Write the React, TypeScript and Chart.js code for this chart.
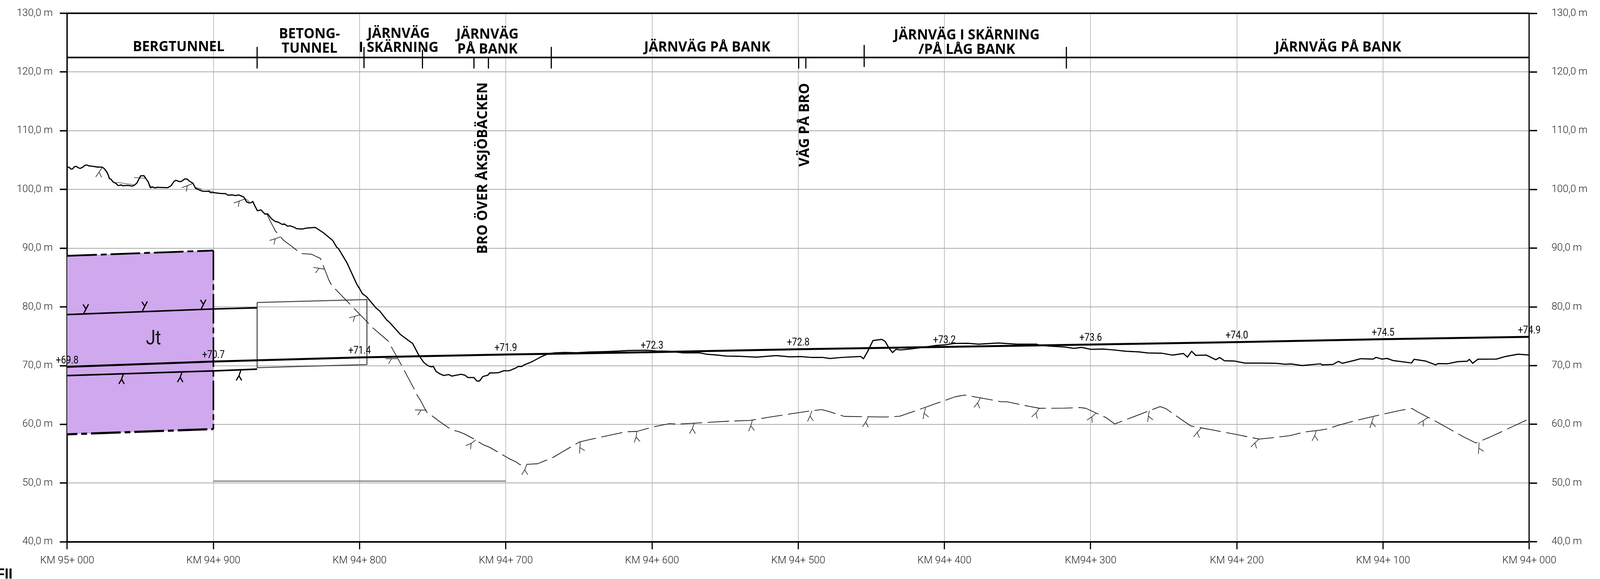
import React, { useEffect, useRef } from "react";
import { Chart, registerables } from "chart.js";

Chart.register(...registerables);

type P = [number, number];

// x = metres from KM 95+000 along the line, y = elevation in metres
const kmLabels = ["KM 95+ 000", "KM 94+ 900", "KM 94+ 800", "KM 94+ 700", "KM 94+ 600", "KM 94+ 500", "KM 94+ 400", "KM94+ 300", "KM 94+ 200", "KM 94+ 100", "KM 94+ 000"];
const stations = [0, 100, 200, 300, 400, 500, 600, 700, 800, 900, 1000];
const railLevels = [69.8, 70.7, 71.4, 71.9, 72.3, 72.8, 73.2, 73.6, 74.0, 74.5, 74.9];

const terrain: P[] = [
  [0, 103.83], [1.3, 103.78], [2.6, 103.47], [3.7, 103.5], [4.9, 103.87], [6.2, 103.92], [7.9, 103.67], [8.8, 103.59], [10.6, 103.78], [12.3, 104.14], [13.7, 104.14], [15, 104], [17.6, 103.94], [20.7, 103.81], [23.8, 103.81], [25.1, 103.61], [26.9, 103.06], [28, 102.51], [28.9, 101.85], [30, 101.74], [31.3, 101.29], [33.1, 101.07], [34.8, 100.68], [36.2, 100.7], [37, 100.79], [37.9, 100.63], [41.5, 100.7], [44.1, 100.59], [45.4, 100.63], [47.6, 101.07], [49, 101.74], [50.3, 102.33], [52.5, 102.35], [53.8, 101.85], [55.4, 101.29], [56.9, 100.3], [58.7, 100.41], [60.2, 100.24], [61.3, 100.37], [64.8, 100.33], [68.8, 100.3], [71, 100.63], [73.2, 101.4], [74.5, 101.56], [76.7, 101.34], [78.1, 101.36], [80.3, 101.78], [82, 101.78], [83.4, 101.45], [86, 101.07], [87.8, 100.19], [91.7, 99.77], [93.5, 99.69], [97, 99.69], [97.9, 99.47], [100.1, 99.47], [104.1, 99.33], [107.2, 99.29], [108.3, 99.31], [109.8, 99.03], [112.9, 99.07], [115.1, 98.96], [117.3, 99.07], [120.8, 98.72], [122.6, 97.92], [124.4, 97.7], [125.7, 97.75], [127, 97.95], [128.1, 97.33], [130.1, 96.38],
  [132.5, 96.52], [135.3, 95.8], [137.1, 95.86], [139.7, 95.02], [142.4, 94.54], [144.1, 94.47], [147.2, 94.03], [148.5, 94.14], [150.7, 93.75], [152.5, 93.81], [155.6, 93.53], [156.7, 93.33], [160.9, 93.26], [163.5, 93.42], [169.7, 93.53], [175.4, 92.6], [181.6, 91.32], [184.3, 90.18], [185.6, 89.91], [191.3, 87.54], [198, 83.9], [199.7, 83.24], [201.9, 82.25], [204.6, 81.77], [211.2, 79.83], [213.8, 79.28], [218.7, 77.73], [220.4, 77.4], [227.9, 75.31], [233.2, 74.32], [236.3, 73.77], [240.7, 71.68], [243.8, 70.58], [246.5, 70.03], [248.7, 69.81], [250.4, 69.87], [252.4, 68.99], [255.3, 68.55], [257.5, 68.33],
  [260.9, 68.48], [263.1, 68.22], [269.4, 68.53], [272.1, 68.37], [274.1, 67.97], [278.2, 67.97], [280.2, 67.38], [282, 67.38], [284.3, 68.15], [287.7, 68.37], [289, 68.77], [291.7, 68.75], [295.1, 68.81], [298.5, 69.12], [302.5, 69.14], [306.6, 69.58], [308.6, 69.87], [310.9, 69.85], [312.6, 70.13], [318, 70.68], [324.1, 71.5], [328.8, 72.01], [333.6, 72.18], [340.3, 72.25], [348.4, 72.2], [356.5, 72.31], [368.7, 72.4], [375.4, 72.47], [384.2, 72.58], [397, 72.62], [402.4, 72.49], [410.5, 72.47], [421.3, 72.18], [432.1, 72.2], [437.5, 71.94],
  [444, 71.81], [450.9, 71.63], [459.2, 71.59], [471.4, 71.45], [485, 71.72], [494.2, 71.5], [501.8, 71.54], [509.3, 71.39], [516.9, 71.39], [521.8, 71.21], [529.1, 71.39], [542.8, 71.56], [544.6, 71.17], [547.3, 72.33], [551.1, 74.27], [557.2, 74.47], [559.5, 74.1], [561.8, 73.11], [564.5, 72.22], [566.8, 72.78], [570.1, 72.67], [576.2, 72.82], [585.3, 73.11], [594.4, 73.44], [600.5, 73.55], [606.6, 73.77], [615.7, 73.81], [623.3, 73.66], [637, 73.85], [649.1, 73.66], [662.8, 73.66], [665.1, 73.48], [671.9, 73.33],
  [682.2, 73.17], [688.5, 72.95], [693.8, 73.11], [700.1, 72.78], [708.6, 72.82], [715.9, 72.67], [724.4, 72.45], [732.8, 72.34], [739.1, 72.16], [748.6, 72.12], [756, 71.79], [763.4, 72.07], [766.2, 71.46], [769.1, 72.45], [771.9, 71.74], [779.2, 71.79], [785.6, 71.01], [788.3, 71.39], [791.5, 70.84], [798.2, 70.79], [805.6, 70.44], [817.2, 70.44], [826.7, 70.4], [833, 70.24], [837.2, 70.29], [844.6, 70.02], [857.3, 70.31], [858.3, 70.13], [865.7, 70.2], [869.5, 70.73], [872.1, 70.4], [880.5, 70.9], [884.7, 71.19], [893.2, 71.12], [895.3, 71.41], [899.1, 71.12], [902.7, 71.23], [906.9, 70.86], [919.5, 70.46], [921.2, 71.08], [929, 70.79], [936, 70.13], [937.5, 70.35], [943.8, 70.31], [951.2, 70.68], [957.5, 70.75], [959, 71.08], [961.3, 70.4], [964.9, 71.1], [977.5, 71.12], [983.9, 71.57], [992.3, 71.94], [1000, 71.81],
];

const rockSurface: P[] = [
  [136.6, 95.8], [139.3, 94.41], [141.3, 93.48], [142.4, 92.93], [145.9, 91.94], [148.1, 91.32], [151.9, 90.62], [155.2, 90], [160, 89.08], [167.2, 88.97], [169.5, 88.68], [173.2, 88.26], [179, 84.56], [180.9, 83.68], [191.9, 80.86], [194.8, 80.09], [205.9, 77.25], [208.8, 76.48], [219.5, 74.21], [220.3, 73.84], [222.4, 72.89], [230, 69.47], [231.9, 68.55], [237, 66.17], [239.2, 65.03], [241.6, 64.09], [245.8, 62.12], [251, 61.18], [254.6, 60.49], [262.9, 59.08], [267.6, 58.77], [271.8, 58.36], [279.4, 57.36], [284.2, 56.57], [288.9, 56.1], [303, 54.07], [307.1, 53.6], [309.7, 53.13],
  [321.8, 53.3], [326.3, 53.76], [332.7, 54.42], [339, 55.36], [350.4, 57.01], [358, 57.45], [382, 58.74], [389.6, 58.8], [402.3, 59.66], [411.9, 60.12], [417.5, 60.04], [428.9, 60.21], [452.9, 60.55], [466.9, 60.67], [482, 61.3], [508.6, 62.31], [516.2, 62.51], [521.3, 62.17], [531.4, 61.36], [559.3, 61.25], [569.4, 61.39], [579.5, 62.25], [598.5, 63.92], [607.4, 64.7], [613.7, 64.99], [625.1, 64.5], [639, 63.84], [642.8, 63.84], [658, 63.06], [665.1, 62.74],
  [682.2, 62.77], [692.7, 62.86], [696.7, 62.74], [710.9, 61.1], [716.5, 60.07], [728.9, 61.25], [747.5, 63.03], [751.5, 62.68], [764.3, 60.44], [768.6, 59.72], [782.5, 59.09], [802.4, 58.14], [815.2, 57.5], [826.9, 57.79], [836.2, 58.08], [846.7, 58.71], [857.2, 59.03], [861.9, 59.23], [868.9, 59.81], [880.6, 60.61], [900.4, 61.76], [912.1, 62.4], [919.8, 62.71], [923.7, 62.11], [937.7, 60.3], [955.2, 57.85], [963.4, 56.84], [965.7, 57.07], [972.7, 57.79], [991.4, 59.95], [1000, 60.96],
];

const rockTraces: P[][] = [
  [[14.6, 104.05], [23.8, 103.78]],
  [[33.1, 101.14], [34.8, 101.18], [45.4, 100.81]],
  [[45.7, 102.02], [53.4, 101.91]],
  [[56.5, 100.63], [59.1, 100.41]],
  [[87.8, 100.35], [92.2, 100.04]],
  [[96.1, 99.82], [100.1, 99.64]],
  [[120.8, 98.65], [124.8, 97.88]],
];

const rockUnitTop: P[] = [[0, 88.7], [100, 89.6]];
const rockUnitBottom: P[] = [[0, 58.3], [100, 59.2]];
const rockUnitEdge: P[] = [[100, 89.6], [100, 59.2]];
const tunnelRoof: P[] = [[0, 78.7], [100, 79.65], [129.9, 79.84]];
const tunnelFloor: P[] = [[0, 68.3], [100, 69.1], [129.9, 69.4]];
const concreteTunnel: P[] = [[129.9, 80.75], [205, 81.26], [205, 70.18], [129.9, 69.65], [129.9, 80.75]];
const lowerDatum: P[] = [[100, 50.34], [300, 50.34]];
const headingRule: P[] = [[0, 122.47], [1000, 122.47]];

// [x, top elevation, bottom elevation]
const sectionDividers: [number, number, number][] = [
  [129.9, 124.2, 120.68], [203, 124.2, 120.75], [243, 123.72, 120.68], [278.2, 122.47, 120.68], [288.1, 122.47, 120.68], [331.1, 124.2, 120.68], [500.3, 122.47, 120.68], [505.2, 122.47, 120.68], [545.1, 124.53, 120.95], [683.4, 124.2, 120.68],
];

// [x, elevation, stem direction in degrees, fork direction in degrees]
const rockSymbols: [number, number, number, number][] = [
  [24, 103.76, -34, -5], [85.7, 101.01, -67, -40], [121.3, 98.37, -69, -40], [145.9, 91.94, -70, -42], [176.1, 86.43, -99, -68], [200.4, 78.66, -75, -45], [225.7, 71.19, -90, -60], [245.8, 62.43, -90, -62], [279.4, 57.36, -52, -37], [314.4, 53.19, -22, 0],
  [350.9, 57.01, -4, 28], [389.6, 58.8, -7, 11], [428.9, 60.21, -19, 0], [468.6, 60.67, -16, 9], [509.4, 62.31, -21, 6], [547.9, 61.25, -27, -3], [587.1, 62.83, -15, 20], [624.6, 64.5, -29, -10], [664.8, 62.74, -34, -18],
  [703.7, 61.91, -48, -27], [740.1, 62.34, -9, 22], [775.5, 59.37, -42, -9], [815.2, 57.5, -48, -13], [854.4, 59, -17, 3], [893.4, 61.25, -18, 12], [930.7, 61.16, -57, -29], [965.7, 56.93, -3, 26],
];
const trackSymbols: [number, number, number, number][] = [
  [11.2, 78.81, 153, 183], [51.4, 79.28, 153, 183], [91.5, 79.59, 153, 183], [38.4, 68.57, -19, 0], [78.5, 68.88, -19, 0], [118.7, 69.16, -19, 0],
];

// [text, x centre, baseline elevation]
const headings: [string, number, number][] = [
  ["BERGTUNNEL", 76.2, 123.55],
  ["BETONG-", 165.7, 125.77], ["TUNNEL", 165.7, 123.3],
  ["JÄRNVÄG", 226.7, 125.83], ["I SKÄRNING", 226.7, 123.4],
  ["JÄRNVÄG", 287.4, 125.67], ["PÅ BANK", 287.4, 123.17],
  ["JÄRNVÄG PÅ BANK", 437.8, 123.48],
  ["JÄRNVÄG I SKÄRNING", 615.3, 125.53], ["/PÅ LÅG BANK", 615.3, 123.1],
  ["JÄRNVÄG PÅ BANK", 869.2, 123.48],
];
// [text, baseline x, centre elevation]
const bridgeNotes: [string, number, number][] = [
  ["BRO ÖVER ÅKSJÖBÄCKEN", 287.1, 103.63],
  ["VÄG PÅ BRO", 507.3, 111],
];
const unitLabel = { text: "Jt", x: 59, y: 73.63 };
const cutOffText = "FII";

const pts = (a: P[]) => a.map(([x, y]) => ({ x, y }));
const line = (data: P[], color: string, width: number, order: number, extra: object = {}) => ({
  data: pts(data),
  borderColor: color,
  borderWidth: width,
  pointRadius: 0,
  tension: 0,
  fill: false,
  order,
  borderJoinStyle: "round",
  ...extra,
});

const annotate = {
  id: "annotate",
  afterDatasetsDraw(chart: any) {
    const { ctx, scales } = chart;
    const X = (v: number) => scales.x.getPixelForValue(v);
    const Y = (v: number) => scales.y.getPixelForValue(v);
    ctx.save();
    ctx.lineCap = "butt";
    const glyph = (s: [number, number, number, number], color: string, w: number, stemLen: number, armLen: number) => {
      const [x, y, stem, fork] = s;
      const px = X(x);
      const py = Y(y);
      const dir = (deg: number, len: number) => [Math.sin((deg * Math.PI) / 180) * len, Math.cos((deg * Math.PI) / 180) * len];
      const [sx, sy] = dir(stem, stemLen);
      const [ax, ay] = dir(fork - 30, armLen);
      const [bx, by] = dir(fork + 30, armLen);
      ctx.strokeStyle = color;
      ctx.lineWidth = w;
      ctx.beginPath();
      ctx.moveTo(px, py);
      ctx.lineTo(px + sx, py + sy);
      ctx.moveTo(px + sx + ax, py + sy + ay);
      ctx.lineTo(px + sx, py + sy);
      ctx.lineTo(px + sx + bx, py + sy + by);
      ctx.stroke();
    };
    rockSymbols.forEach((s) => glyph(s, "#222", 1.6, 14.5, 15));
    trackSymbols.forEach((s) => glyph(s, "#000", 3, 14, 14));

    ctx.fillStyle = "#000";
    ctx.textBaseline = "alphabetic";
    ctx.textAlign = "center";
    ctx.font = "700 35px 'Open Sans'";
    headings.forEach(([t, x, y]) => ctx.fillText(t, X(x), Y(y)));

    bridgeNotes.forEach(([t, x, y]) => {
      ctx.save();
      ctx.translate(X(x), Y(y));
      ctx.rotate(-Math.PI / 2);
      ctx.font = "700 35.5px 'Open Sans'";
      ctx.fillText(t, 0, 0);
      ctx.restore();
    });

    ctx.font = "400 28px Roboto";
    stations.forEach((s, i) => {
      ctx.save();
      ctx.translate(X(s), Y(railLevels[i]) - 9);
      ctx.scale(0.82, 1);
      ctx.fillText(`+${railLevels[i].toFixed(1)}`, 0, 0);
      ctx.restore();
    });

    ctx.save();
    ctx.translate(X(unitLabel.x), Y(unitLabel.y));
    ctx.scale(0.85, 1);
    ctx.font = "400 52px Roboto";
    ctx.fillStyle = "#111";
    ctx.fillText(unitLabel.text, 0, 0);
    ctx.restore();

    ctx.fillStyle = "#000";
    ctx.textAlign = "right";
    ctx.font = "700 36px 'Liberation Sans'";
    ctx.fillText(cutOffText, 32, 1482);
    ctx.restore();
  },
};

// the axes keep the exact plot frame: no room is reserved for overhanging tick labels
const noPad = (s: any) => {
  s.paddingLeft = 0;
  s.paddingRight = 0;
  s.paddingTop = 0;
  s.paddingBottom = 0;
};

export default function App() {
  const ref = useRef<HTMLCanvasElement | null>(null);
  useEffect(() => {
    document.body.style.margin = "0";
    document.body.style.overflow = "hidden";
    const tickFont = { family: "Roboto", size: 26, weight: 300 as any };
    const yTicks = {
      min: 40,
      max: 130,
      ticks: {
        stepSize: 10,
        font: tickFont,
        color: "#222",
        callback: (v: any) => `${Number(v).toFixed(1).replace(".", ",")} m`,
      },
    };
    const datasets: any[] = [
      line(rockUnitTop, "#000", 4.5, 50, {
        fill: { target: 1 },
        backgroundColor: "#D0A8ED",
        borderDash: [76, 10, 15, 10],
      }),
      line(rockUnitBottom, "#000", 5.5, 49, { borderDash: [76, 10, 15, 10], borderDashOffset: 50 }),
      line(rockUnitEdge, "#000", 4, 48, { borderDash: [76, 10, 15, 10] }),
      line(lowerDatum, "#666", 2.5, 40),
      line(concreteTunnel, "#444", 2.5, 39),
      line(tunnelRoof, "#000", 4, 30),
      line(tunnelFloor, "#000", 4, 29),
      ...rockTraces.map((t) => line(t, "#555", 1.6, 28)),
      line(rockSurface, "#111", 1.8, 27, { borderDash: [55, 14] }),
      line(headingRule, "#000", 4, 20),
      ...sectionDividers.map(([x, a, b]) => line([[x, a], [x, b]], "#000", 3, 19)),
      line(terrain, "#000", 3, 10),
      line(stations.map((s, i) => [s, railLevels[i]] as P), "#000", 5, 5),
    ];
    const chart = new Chart(ref.current as HTMLCanvasElement, {
      type: "line",
      data: { datasets },
      plugins: [annotate],
      options: {
        animation: false,
        responsive: false,
        devicePixelRatio: 1,
        parsing: { xAxisKey: "x", yAxisKey: "y" } as any,
        layout: { padding: { top: 34, left: 0, right: 32, bottom: 17 } },
        plugins: { legend: { display: false }, tooltip: { enabled: false }, title: { display: false } },
        scales: {
          x: {
            type: "linear",
            position: "bottom",
            min: 0,
            max: 1000,
            afterFit: noPad,
            grid: { color: "#999", lineWidth: 1.2, tickColor: "#000", tickWidth: 3, tickLength: 19 },
            border: { color: "#000", width: 4 },
            ticks: {
              stepSize: 100,
              maxRotation: 0,
              autoSkip: false,
              padding: 14,
              font: tickFont,
              color: "#222",
              callback: (_v: any, i: number) => kmLabels[i],
            },
          },
          y: {
            ...yTicks,
            position: "left",
            afterFit: (s: any) => { s.width = 172; noPad(s); },
            grid: {
              color: (c: any) => (c.tick && c.tick.value === 130 ? "#000" : "#aaa"),
              lineWidth: (c: any) => (c.tick && c.tick.value === 130 ? 4 : 2),
              tickColor: "#000",
              tickWidth: 3.5,
              tickLength: 19,
            },
            border: { color: "#000", width: 3.5 },
            ticks: { ...yTicks.ticks, padding: 18 },
          },
          y2: {
            ...yTicks,
            position: "right",
            afterFit: noPad,
            grid: { drawOnChartArea: false, tickColor: "#000", tickWidth: 3.5, tickLength: 20 },
            border: { color: "#000", width: 3 },
            ticks: { ...yTicks.ticks, padding: 37 },
          },
        },
      } as any,
    });
    return () => chart.destroy();
  }, []);
  return (
    <div style={{ position: "absolute", left: 0, top: 0, width: 4133, height: 1483, background: "#fff" }}>
      <canvas ref={ref} width={4133} height={1483} style={{ display: "block" }} />
    </div>
  );
}
